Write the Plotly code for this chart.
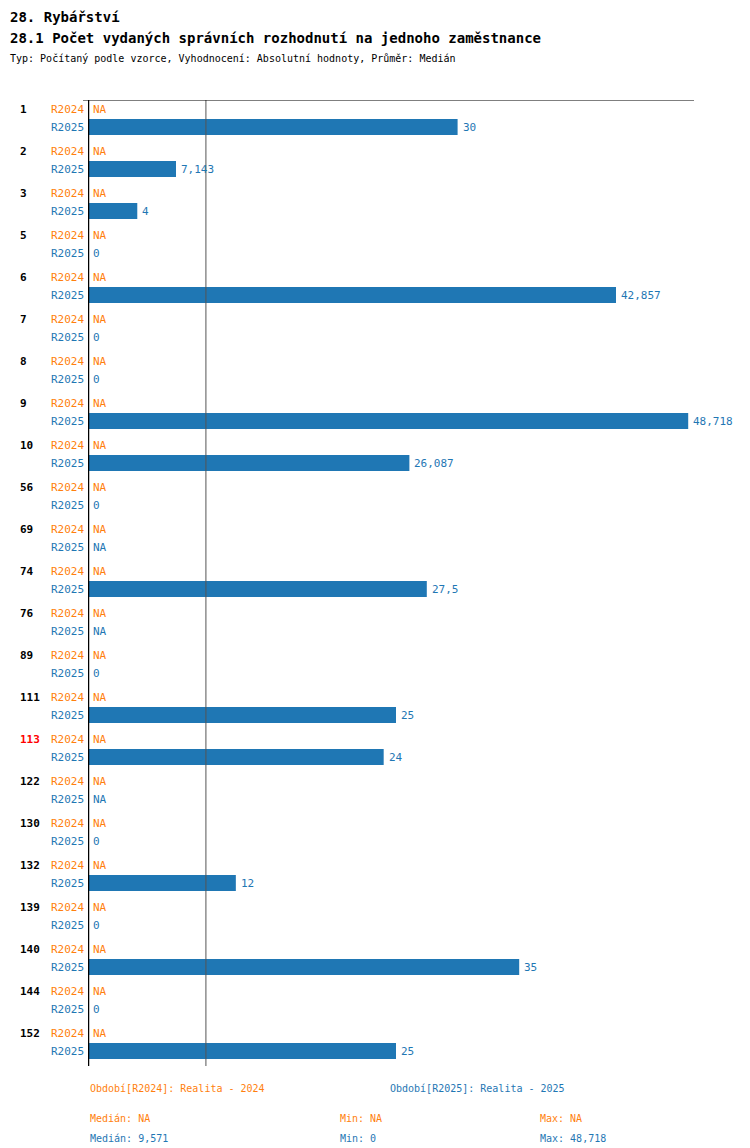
import plotly.graph_objects as go

groups = ["1","2","3","5","6","7","8","9","10","56","69","74","76","89","111","113","122","130","132","139","140","144","152"]
r2025 = [30,7.143,4,0,42.857,0,0,48.718,26.087,0,None,27.5,None,0,25,24,None,0,12,0,35,0,25]
r2024 = [None]*len(groups)
highlight = "113"
median_2025 = 9.571

ORANGE = "#ff7f0e"; BLUE = "#1f77b4"
FONT = "DejaVu Sans Mono"
W, H = 750, 1148
L, R = 80, 745
XMAX = (R - L) / 12.32
PX = XMAX / (R - L)  # data units per pixel

def fmt(v):
    if v is None:
        return "NA"
    s = f"{v:.3f}".rstrip("0").rstrip(".")
    return s.replace(".", ",")

y24 = [101 + i*42 for i in range(len(groups))]
y25 = [119 + i*42 for i in range(len(groups))]

fig = go.Figure()
fig.add_trace(go.Bar(orientation="h", x=[v if v else 0 for v in r2025], y=y25, width=16,
                     marker=dict(color=BLUE, line=dict(width=0)), hoverinfo="skip"))

ann = []
def pxx(p):
    return (p - L) / (R - L)
for i, g in enumerate(groups):
    ann.append(dict(x=pxx(10), y=y24[i], xref="paper", yref="y", text=f"<b>{g}</b>", showarrow=False,
                    xanchor="left", font=dict(color="red" if g == highlight else "black", size=11, family=FONT)))
    ann.append(dict(x=pxx(78), y=y24[i], xref="paper", yref="y", text="R2024", showarrow=False,
                    xanchor="right", font=dict(color=ORANGE, size=11, family=FONT)))
    ann.append(dict(x=pxx(78), y=y25[i], xref="paper", yref="y", text="R2025", showarrow=False,
                    xanchor="right", font=dict(color=BLUE, size=11, family=FONT)))
    ann.append(dict(x=(r2024[i] or 0) + 3*PX, y=y24[i], xref="x", yref="y", text=fmt(r2024[i]), showarrow=False,
                    xanchor="left", font=dict(color=ORANGE, size=11, family=FONT)))
    ann.append(dict(x=(r2025[i] or 0) + 3*PX, y=y25[i], xref="x", yref="y", text=fmt(r2025[i]), showarrow=False,
                    xanchor="left", font=dict(color=BLUE, size=11, family=FONT)))

ann.append(dict(x=0, y=86, xref="x", yref="y", text="0", showarrow=False, yanchor="bottom",
                font=dict(size=10, family=FONT, color="black")))

def top(text, y, size, bold=False, color="black", x=0):
    ann.append(dict(x=x, y=y, xref="paper", yref="paper", text=f"<b>{text}</b>" if bold else text, showarrow=False,
                    xanchor="left", yanchor="middle", font=dict(size=size, family=FONT, color=color)))

def ypap(p):
    return (1058 - p) / (1058 - 92)

top("28. Rybářství", ypap(9), 14, True, x=pxx(0))
top("28.1 Počet vydaných správních rozhodnutí na jednoho zaměstnance", ypap(30), 14, True, x=pxx(0))
top("Typ: Počítaný podle vzorce, Vyhodnocení: Absolutní hodnoty, Průměr: Medián", ypap(51), 10, x=pxx(0))
top("Období[R2024]: Realita - 2024", ypap(1080), 10, color=ORANGE, x=pxx(80))
top("Období[R2025]: Realita - 2025", ypap(1080), 10, color=BLUE, x=pxx(380))
top("Medián: NA", ypap(1110), 10, color=ORANGE, x=pxx(80))
top("Min: NA", ypap(1110), 10, color=ORANGE, x=pxx(330))
top("Max: NA", ypap(1110), 10, color=ORANGE, x=pxx(530))
top(f"Medián: {fmt(median_2025)}", ypap(1130), 10, color=BLUE, x=pxx(80))
top(f"Min: {fmt(min(v for v in r2025 if v is not None))}", ypap(1130), 10, color=BLUE, x=pxx(330))
top(f"Max: {fmt(max(v for v in r2025 if v is not None))}", ypap(1130), 10, color=BLUE, x=pxx(530))

shapes = [
    dict(type="line", xref="x", yref="y", x0=median_2025, x1=median_2025, y0=88, y1=1058, line=dict(color="#555", width=1)),
    dict(type="line", xref="paper", yref="y", x0=pxx(75), x1=pxx(686), y0=92, y1=92, line=dict(color="black", width=1)),
    dict(type="line", xref="x", yref="y", x0=0, x1=0, y0=92, y1=1058, line=dict(color="black", width=2.5)),
]

fig.update_layout(
    width=W, height=H, margin=dict(l=L, r=W-R, t=92, b=H-1058),
    paper_bgcolor="white", plot_bgcolor="white", showlegend=False,
    xaxis=dict(range=[0, XMAX], visible=False, fixedrange=True),
    yaxis=dict(range=[1058, 92], visible=False, fixedrange=True),
    annotations=ann, shapes=shapes,
)
fig.write_html("out.html")
